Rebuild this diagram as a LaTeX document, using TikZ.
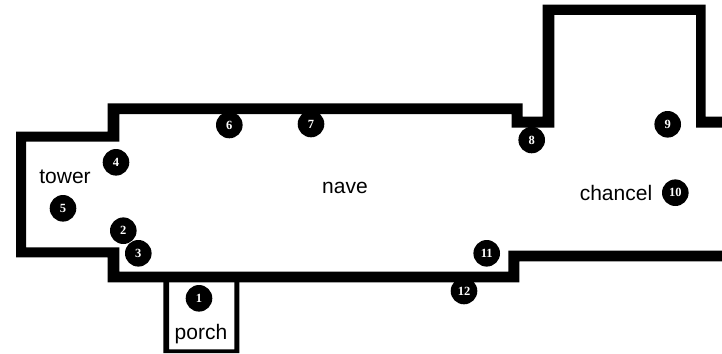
\documentclass[tikz,border=0pt]{standalone}
\usepackage{fontspec}
\setmainfont{Liberation Sans}
\newfontfamily\numfont{Liberation Serif}
\tikzset{
  wall/.style={fill=black,draw=none},
  marker/.style={circle,fill=black,text=white,minimum size=26.6pt,inner sep=0pt,font=\numfont\fontsize{12.5}{12.5}\selectfont\bfseries},
  roomlabel/.style={inner sep=0pt,text=black,font=\fontsize{21}{21}\selectfont}
}
\begin{document}
\begin{tikzpicture}[x=1pt,y=-1pt]
\useasboundingbox (0,0) rectangle (722,353);
\fill[white] (0,0) rectangle (722,353);
% main wall
\path[wall] (722,116.7) -- (705.7,116.7) -- (705.7,4.7) -- (542.7,4.7) -- (542.7,116.7) -- (522.7,116.7) -- (522.7,103.3) -- (107.7,103.3) -- (107.7,131.7) -- (16,131.7) -- (16,257.3) -- (107.7,257.3) -- (107.7,282.3) -- (519.3,282.3) -- (519.3,261.3) -- (722,261.3) -- (722,250.7) -- (508.3,250.7) -- (508.3,271.5) -- (119.3,271.5) -- (119.3,247.3) -- (26,247.3) -- (26,141.7) -- (119.3,141.7) -- (119.3,114) -- (511.7,114) -- (511.7,127.7) -- (554.3,127.7) -- (554.3,15) -- (696,15) -- (696,127.7) -- (722,127.7) -- cycle;
% porch
\path[wall] (163.3,282) -- (163.3,353) -- (239.3,353) -- (239.3,282) -- (234.3,282) -- (234.3,349.3) -- (169,349.3) -- (169,282) -- cycle;
% room labels
\node[roomlabel] (tower) at (65,177) {tower};
\node[roomlabel] (nave) at (345,187.5) {nave};
\node[roomlabel] (chancel) at (616,192.5) {chancel};
\node[roomlabel] (porch) at (201,334) {porch};
% markers
\node[marker] (m1) at (199,298.3) {1};
\node[marker] (m2) at (123.3,230.7) {2};
\node[marker] (m3) at (138.3,253.3) {3};
\node[marker] (m4) at (116,162.3) {4};
\node[marker] (m5) at (63,208.3) {5};
\node[marker] (m6) at (229.3,125) {6};
\node[marker] (m7) at (311,124) {7};
\node[marker] (m8) at (531.7,140) {8};
\node[marker] (m9) at (667.7,124.3) {9};
\node[marker] (m10) at (675.3,192.7) {10};
\node[marker] (m11) at (486.7,253.3) {11};
\node[marker] (m12) at (464,291) {12};
\end{tikzpicture}
\end{document}
